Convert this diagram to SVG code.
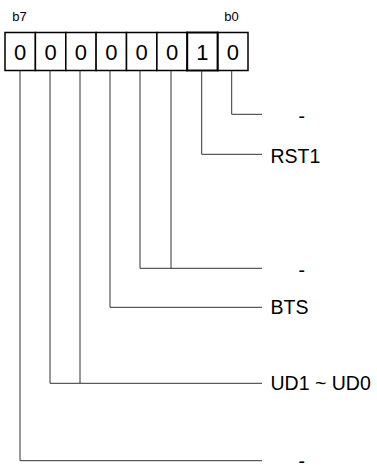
<svg xmlns="http://www.w3.org/2000/svg" width="377" height="470" viewBox="0 0 377 470">
<style>
.cell{fill:#fff;stroke:#000;stroke-width:1.5}
.cell1{fill:#fff;stroke:#000;stroke-width:2}
.bit{font-family:"Liberation Sans",Arial,sans-serif;font-size:22px;text-anchor:middle;fill:#000}
.blab{font-family:"Liberation Sans",Arial,sans-serif;font-size:13px;text-anchor:middle;fill:#000}
.lab{font-family:"Liberation Sans",Arial,sans-serif;font-size:19.5px;fill:#000}
.conn{fill:none;stroke:#333;stroke-width:1}
</style>
<rect width="377" height="470" fill="#fff"/>
<g id="bitlabels">
<text class="blab" x="19.5" y="21">b7</text>
<text class="blab" x="231.5" y="21">b0</text>
</g>
<g id="register">
<rect class="cell" x="5" y="32.5" width="30.4" height="38"/>
<rect class="cell" x="35.4" y="32.5" width="30.4" height="38"/>
<rect class="cell" x="65.8" y="32.5" width="30.4" height="38"/>
<rect class="cell" x="96.1" y="32.5" width="30.4" height="38"/>
<rect class="cell" x="126.5" y="32.5" width="30.4" height="38"/>
<rect class="cell" x="156.9" y="32.5" width="30.4" height="38"/>
<rect class="cell" x="217.6" y="32.5" width="30.4" height="38"/>
<rect class="cell1" x="187.2" y="32.5" width="30.4" height="38"/>
<text class="bit" x="20.2" y="59.5">0</text>
<text class="bit" x="50.6" y="59.5">0</text>
<text class="bit" x="80.9" y="59.5">0</text>
<text class="bit" x="111.3" y="59.5">0</text>
<text class="bit" x="141.7" y="59.5">0</text>
<text class="bit" x="172" y="59.5">0</text>
<text class="bit" x="202.4" y="59.5">1</text>
<text class="bit" x="232.8" y="59.5">0</text>
</g>
<g id="connectors">
<path class="conn" d="M231.7,71 V114.3 H262"/>
<path class="conn" d="M201.7,71 V154.3 H262"/>
<path class="conn" d="M171,71 V268.3 M140,71 V268.3 H262"/>
<path class="conn" d="M110,71 V307.3 H262"/>
<path class="conn" d="M80,71 V383.3 M50,71 V383.3 H262"/>
<path class="conn" d="M20,71 V460.7 H262"/>
</g>
<g id="label-b0"><text class="lab" x="298.5" y="123">-</text></g>
<g id="label-rst1"><text class="lab" x="270.5" y="162.7">RST1</text></g>
<g id="label-b3b2"><text class="lab" x="298.5" y="277">-</text></g>
<g id="label-bts"><text class="lab" x="270.5" y="313.5">BTS</text></g>
<g id="label-ud"><text class="lab" x="270.5" y="389.7">UD1 ~ UD0</text></g>
<g id="label-b7"><text class="lab" x="298.5" y="468">-</text></g>
</svg>
